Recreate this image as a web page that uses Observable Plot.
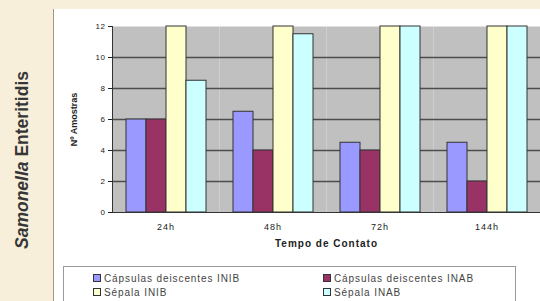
<!DOCTYPE html>
<html><head><meta charset="utf-8">
<script src="https://cdn.jsdelivr.net/npm/d3@7"></script>
<script src="https://cdn.jsdelivr.net/npm/@observablehq/plot@0.6"></script>
<style>
html,body{margin:0;padding:0;width:540px;height:301px;overflow:hidden;background:#f8efdb;font-family:Arial,"Liberation Sans",sans-serif}
#wrap{position:relative;width:540px;height:301px}
#side{position:absolute;left:22px;top:160px;transform:translate(-50%,-50%) rotate(-90deg);white-space:nowrap;font-weight:bold;font-size:17.5px;color:#363636}
#panel{position:absolute;left:53px;top:9px;width:487px;height:292px;background:#fff;border-left:1px solid #a39883}
#chart{position:absolute;left:0;top:0}
#legend{position:absolute;left:63px;top:266px;width:453px;height:44px;border:1px solid #9a9a9a;box-sizing:border-box;padding:4px 0 0 29px;display:grid;grid-template-columns:230px 200px;grid-auto-rows:14px;font-size:10px;letter-spacing:0.9px;color:#444}
.item{display:flex;align-items:center;white-space:nowrap}
.sw{width:6px;height:6px;border:1px solid #333;margin-right:3px;flex:none}
g[aria-label="y-axis label"]{font-weight:bold;font-size:9px}
g[aria-label="fx-axis label"]{font-weight:bold;font-size:10px;letter-spacing:1px}
g[aria-label="fx-axis tick label"]{font-size:9px;letter-spacing:1px}
g[aria-label="y-axis tick label"]{font-size:8px;letter-spacing:0.5px}
</style></head>
<body><div id="wrap">
<div id="side"><i>Samonella</i> Enteritidis</div>
<div id="panel"></div>
<div id="chart"></div>
<div id="legend"></div>
</div>
<script>
const categories = ["24h", "48h", "72h", "144h"];
const series = ["Cápsulas deiscentes INIB", "Cápsulas deiscentes INAB", "Sépala INIB", "Sépala INAB"];
const capsINIB = [6, 6.5, 4.5, 4.5];
const capsINAB = [6, 4, 4, 2];
const sepINIB = [12, 12, 12, 12];
const sepINAB = [8.5, 11.5, 12, 12];
const colors = ["#9999ff", "#993366", "#ffffcc", "#ccffff"];
const yTicks = [0, 2, 4, 6, 8, 10, 12];
const gridTicks = [2, 4, 6, 8, 10];

const values = [capsINIB, capsINAB, sepINIB, sepINAB];
const data = categories.flatMap((c, i) => values.map((v, j) => ({category: c, series: series[j], value: v[i]})));

const chart = Plot.plot({
  width: 540, height: 260,
  marginLeft: 112, marginRight: 0, marginTop: 26, marginBottom: 48,
  style: {background: "transparent", fontFamily: "Arial, 'Liberation Sans', sans-serif", fontSize: "8px", color: "#222"},
  fx: {domain: categories, padding: 0, label: "Tempo de Contato", labelAnchor: "center", labelOffset: 34, tickSize: 0, tickPadding: 11, axis: "bottom"},
  x: {domain: series, paddingInner: 0, paddingOuter: 0.65, axis: null},
  y: {domain: [0, 12], ticks: yTicks, tickFormat: d => d, label: "Nº Amostras", labelArrow: "none", labelAnchor: "center", labelOffset: 42, tickSize: 4, tickPadding: 3},
  color: {domain: series, range: colors},
  marks: [
    Plot.frame({fill: "#c0c0c0"}),
    Plot.gridY(gridTicks, {stroke: "#4d4d4d", strokeOpacity: 1, strokeWidth: 1.3}),
    Plot.barY(data, {fx: "category", x: "series", y: "value", fill: "series", stroke: "#333", strokeWidth: 1}),
    Plot.ruleY([0], {stroke: "#333"}),
    Plot.frame({anchor: "left", stroke: "#333", facet: "super"})
  ]
});
document.getElementById("chart").appendChild(chart);

const legend = document.getElementById("legend");
series.forEach((s, j) => {
  const it = document.createElement("div");
  it.className = "item";
  const sw = document.createElement("span");
  sw.className = "sw";
  sw.style.background = colors[j];
  it.appendChild(sw);
  it.appendChild(document.createTextNode(s));
  legend.appendChild(it);
});
</script>
</body></html>
